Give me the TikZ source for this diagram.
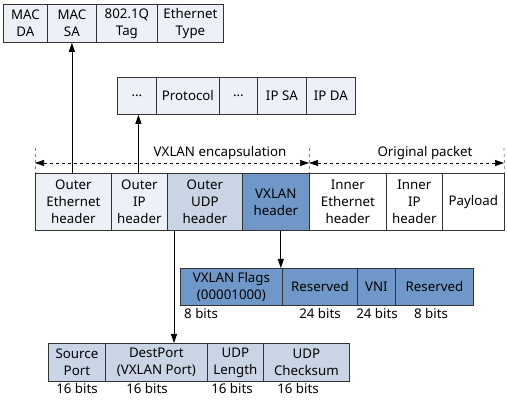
\documentclass[tikz,border=0pt]{standalone}
\usepackage{fontspec}
\setmainfont{Noto Sans}
\usetikzlibrary{arrows.meta}
\definecolor{lightc}{HTML}{EDF1F7}
\definecolor{udpc}{HTML}{C9D5E5}
\definecolor{vxc}{HTML}{6F98C8}
\definecolor{bordc}{HTML}{333333}
\tikzset{
  cell/.style={draw=bordc, line width=0.8pt, inner sep=0pt, anchor=north west,
    align=center, font=\fontsize{13.3}{17}\selectfont},
  lbl/.style={inner sep=0pt, font=\fontsize{13.3}{17}\selectfont},
  arr/.style={line width=0.8pt, -{Triangle[length=9pt,width=6pt]}},
  darr/.style={line width=0.7pt, dashed, {Triangle[length=9pt,width=6pt]}-{Triangle[length=9pt,width=6pt]}},
  tick/.style={line width=0.7pt, dashed, gray}
}
\newcommand{\cellat}[7]{% name, x, y, w, h, fill, text
  \node[cell, fill=#6, minimum width=#4pt, minimum height=#5pt] (#1) at (#2,#3) {#7};}
\begin{document}
\begin{tikzpicture}[x=1pt,y=-1pt]
\useasboundingbox (0,0) rectangle (507,406);
% MAC row
\cellat{macda}{3}{4}{44}{38}{lightc}{MAC\\DA}
\cellat{macsa}{47}{4}{49}{38}{lightc}{MAC\\SA}
\cellat{tag}{96}{4}{61}{38}{lightc}{802.1Q\\Tag}
\cellat{etype}{157}{4}{66}{38}{lightc}{Ethernet\\Type}
% IP row
\cellat{ipa}{117}{77}{39}{37}{lightc}{...}
\cellat{proto}{156}{77}{63}{37}{lightc}{Protocol}
\cellat{ipb}{219}{77}{38}{37}{lightc}{...}
\cellat{ipsa}{257}{77}{49}{37}{lightc}{IP SA}
\cellat{ipda}{306}{77}{49}{37}{lightc}{IP DA}
% main row
\cellat{oeth}{35}{173}{76}{57}{lightc}{Outer\\Ethernet\\header}
\cellat{oip}{111}{173}{56}{57}{lightc}{Outer\\IP\\header}
\cellat{oudp}{167}{173}{75}{57}{udpc}{Outer\\UDP\\header}
\cellat{vxh}{242}{173}{67}{57}{vxc}{VXLAN\\header}
\cellat{ieth}{309}{173}{77}{57}{white}{Inner\\Ethernet\\header}
\cellat{iip}{386}{173}{56}{57}{white}{Inner\\IP\\header}
\cellat{pay}{442}{173}{62}{57}{white}{Payload}
% encapsulation markers
\coordinate (t1) at (35,148);
\coordinate (t2) at (309,148);
\coordinate (t3) at (504,148);
\draw[tick] (t1) -- (oeth.north west);
\draw[tick] (t2) -- (ieth.north west);
\draw[tick] (t3) -- (pay.north east);
\coordinate (d1) at (35,163);
\coordinate (d2) at (309,163);
\coordinate (d3) at (504,163);
\draw[darr] (d1) -- (d2);
\draw[darr] (d2) -- (d3);
\node[lbl] (enc) at (220,153) {VXLAN encapsulation};
\node[lbl] (orig) at (425,153) {Original packet};
% VXLAN header row
\cellat{flags}{180}{268}{102}{37}{vxc}{VXLAN Flags\\(00001000)}
\cellat{res1}{282}{268}{75}{37}{vxc}{Reserved}
\cellat{vni}{357}{268}{38}{37}{vxc}{VNI}
\cellat{res2}{395}{268}{78}{37}{vxc}{Reserved}
\node[lbl, anchor=west] (b1) at (184,314) {8 bits};
\node[lbl] (b2) at (320,314) {24 bits};
\node[lbl] (b3) at (377,314) {24 bits};
\node[lbl] (b4) at (431,314) {8 bits};
% UDP row
\cellat{sport}{48}{343}{57}{38}{udpc}{Source\\Port}
\cellat{dport}{105}{343}{102}{38}{udpc}{DestPort\\(VXLAN Port)}
\cellat{ulen}{207}{343}{56}{38}{udpc}{UDP\\Length}
\cellat{ucs}{263}{343}{86}{38}{udpc}{UDP\\Checksum}
\node[lbl] (u1) at (77,389) {16 bits};
\node[lbl] (u2) at (147,389) {16 bits};
\node[lbl] (u3) at (232,389) {16 bits};
\node[lbl] (u4) at (298,389) {16 bits};
% connectors
\draw[arr] (oeth.north -| macsa.south) -- (macsa.south);
\draw[arr] ([xshift=-1pt]oip.north) -- ([xshift=-1pt]ipa.south -| oip.north);
\coordinate (ud) at ([xshift=7pt]oudp.south west);
\draw[arr] (ud) -- (ud |- dport.north);
\coordinate (vd) at ([xshift=-2pt]flags.north east);
\draw[arr] (vd |- vxh.south) -- (vd);
\end{tikzpicture}
\end{document}
